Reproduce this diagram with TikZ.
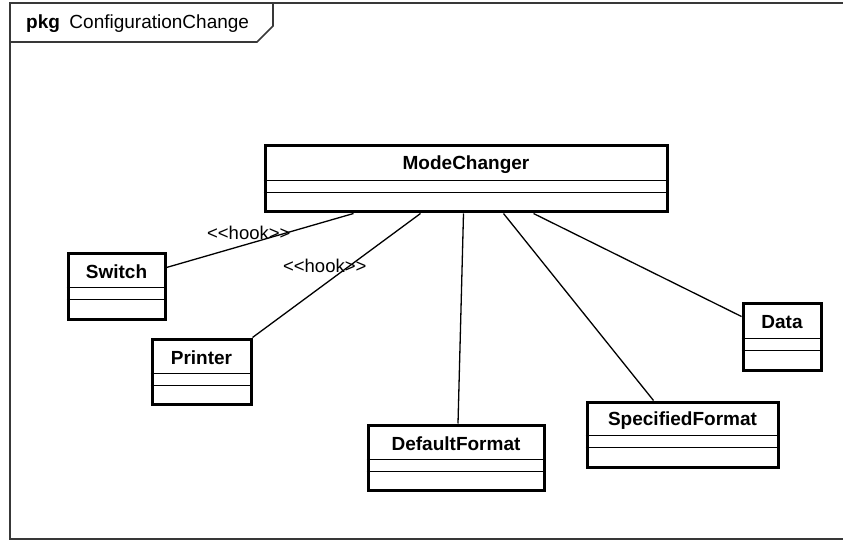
\documentclass[tikz,border=0pt]{standalone}
\usepackage{fontspec}
\setmainfont{Liberation Sans}
\usetikzlibrary{calc}

% UML class with name compartment and two empty compartments
% #1 node name, #2..#5 left/top/right/bottom, #6 #7 divider rows, #8 class name
\newcommand\umlclassbox[8]{%
  \node[clsbox, minimum width={#4pt-#2pt}, minimum height={#5pt-#3pt}] (#1)
    at ({(#2+#4)/2},{(#3+#5)/2}) {};
  \node[clsname] (#1-name) at ({(#2+#4)/2},{(#3+#6)/2+1}) {#8};
  \draw[divider] ($(#1.north west)+(0,#6-#3)$) -- ($(#1.north east)+(0,#6-#3)$);
  \draw[divider] ($(#1.north west)+(0,#7-#3)$) -- ($(#1.north east)+(0,#7-#3)$);
}
\newcommand\stereo[1]{<\kern0pt<#1>\kern0pt>}

\tikzset{
  clsbox/.style={draw=black, line width=3pt, fill=white, inner sep=0pt, rectangle},
  divider/.style={draw=black, line width=1.5pt},
  clsname/.style={font=\fontsize{19}{22}\selectfont\bfseries, inner sep=0pt},
  assoc/.style={draw=black, line width=1.3pt},
  stereolabel/.style={font=\fontsize{18.5}{22}\selectfont, inner sep=0pt},
  framestroke/.style={draw=black!78, line width=1.6pt},
}

\begin{document}
\begin{tikzpicture}[x=1pt, y=-1pt]
  \useasboundingbox (0,0) rectangle (843,540);
  \clip (0,0) rectangle (843,540);
  \fill[white] (0,0) rectangle (843,540);

  % package frame and its name tab
  \draw[framestroke] (860,3) -- (10,3) -- (10,539) -- (860,539);
  \draw[framestroke] (10,42) -- (257,42) -- (273,26) -- (273,3);
  \node[anchor=base west, inner sep=0pt, font=\fontsize{19}{22}\selectfont] (title)
    at (26,28.5) {\textbf{pkg}\hspace{0.5em}ConfigurationChange};

  % classes
  \umlclassbox{mc}{265}{146}{667}{212}{182}{194}{ModeChanger}
  \umlclassbox{sw}{68}{253}{165}{319}{289}{301}{Switch}
  \umlclassbox{pr}{152}{339}{251}{404}{375}{387}{Printer}
  \umlclassbox{df}{368}{425}{544}{490}{461}{473}{DefaultFormat}
  \umlclassbox{sf}{587}{402}{778}{467}{437}{449}{SpecifiedFormat}
  \umlclassbox{dt}{743}{303}{821}{370}{340}{352}{Data}

  % associations
  \draw[assoc] ($(mc.south west)+(90,0)$) --
    node[stereolabel, pos=0.56, yshift=10.8pt] (hook1) {\stereo{hook}}
    ($(sw.north east)+(0,16)$);
  \draw[assoc] ($(mc.south west)+(157,0)$) --
    node[stereolabel, pos=0.57, yshift=18pt] (hook2) {\stereo{hook}}
    (pr.north east);
  \draw[assoc] ($(mc.south west)+(200,0)$) -- ($(df.north)+(2,0)$);
  \draw[assoc] ($(mc.south west)+(240,0)$) -- ($(sf.north west)+(68,0)$);
  \draw[assoc] ($(mc.south west)+(270,0)$) -- ($(dt.north west)+(0,15)$);
\end{tikzpicture}
\end{document}
